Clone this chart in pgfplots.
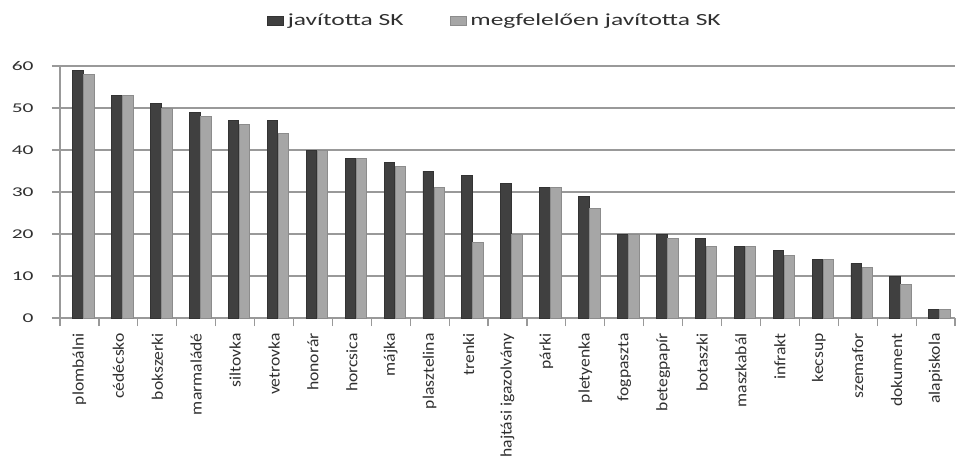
\documentclass[border=0pt]{standalone}
\usepackage{fontspec}
\setmainfont{Carlito}
\newfontfamily\legfont[FakeStretch=1.5]{Carlito}
\newfontfamily\tickfont[FakeStretch=1.6]{Carlito}
\newfontfamily\labfont[FakeStretch=1.1]{Carlito}
\usepackage{pgfplots}
\usepackage{pgfplotstable}
\pgfplotsset{compat=1.18}
\definecolor{darkbar}{HTML}{404040}
\definecolor{lightbar}{HTML}{A6A6A6}
\definecolor{gridc}{HTML}{999999}
\definecolor{txt}{HTML}{303030}

\pgfplotstableread{
idx dark light
0 59 58
1 53 53
2 51 50
3 49 48
4 47 46
5 47 44
6 40 40
7 38 38
8 37 36
9 35 31
10 34 18
11 32 20
12 31 31
13 29 26
14 20 20
15 20 19
16 19 17
17 17 17
18 16 15
19 14 14
20 13 12
21 10 8
22 2 2
}\datatable

\begin{document}
\begin{tikzpicture}
\path[use as bounding box] (-30pt,-69.5pt) rectangle (450.5pt,159pt);
\begin{axis}[
  at={(0,0)}, anchor=south west,
  scale only axis, width=447.5pt, height=126pt,
  xmin=-0.5, xmax=22.5, ymin=0, ymax=60,
  ytick={0,10,...,60},
  xtick={0,...,22},
  xticklabels={plombálni,cédécsko,bokszerki,marmaládé,siltovka,vetrovka,honorár,horcsica,májka,plasztelina,trenki,hajtási igazolvány,párki,pletyenka,fogpaszta,betegpapír,botaszki,maszkabál,infrakt,kecsup,szemafor,dokument,alapiskola},
  minor xtick={-0.5,0.5,...,22.5},
  tick align=outside,
  major tick length=4pt,
  minor tick length=4pt,
  major x tick style={draw=none},
  tick style={gridc, line width=0.6pt},
  axis x line*=bottom, axis y line*=left,
  axis line style={gridc, line width=0.6pt},
  ymajorgrids,
  grid style={gridc, line width=0.6pt},
  /pgf/number format/assume math mode=true,
  yticklabel style={font=\tickfont\fontsize{6.7}{8}\selectfont, text=txt, inner sep=0pt, xshift=-9pt},
  xticklabel style={font=\labfont\fontsize{8}{9}\selectfont, text=txt, rotate=90, anchor=east, inner sep=0pt},
  xticklabel shift=3.5pt,
  legend style={at={(0.487,1.18)}, anchor=center, draw=none, fill=none,
    legend columns=2, font=\legfont\fontsize{8.5}{10}\selectfont, text=txt,
    /tikz/every even column/.append style={column sep=21pt},
    legend cell align=left},
  legend image code/.code={\fill[#1] (0pt,-2.25pt) rectangle (8pt,2.25pt);},
]
\addplot[ybar, bar width=5.25pt, bar shift=-0.75pt, fill=darkbar, draw=black!80, line width=0.4pt] table[x=idx,y=dark]{\datatable};
\addplot[ybar, bar width=5.25pt, bar shift=4.75pt, fill=lightbar, draw=black!45, line width=0.4pt] table[x=idx,y=light]{\datatable};
\legend{javította SK, megfelelően javította SK}
\end{axis}
\end{tikzpicture}
\end{document}
